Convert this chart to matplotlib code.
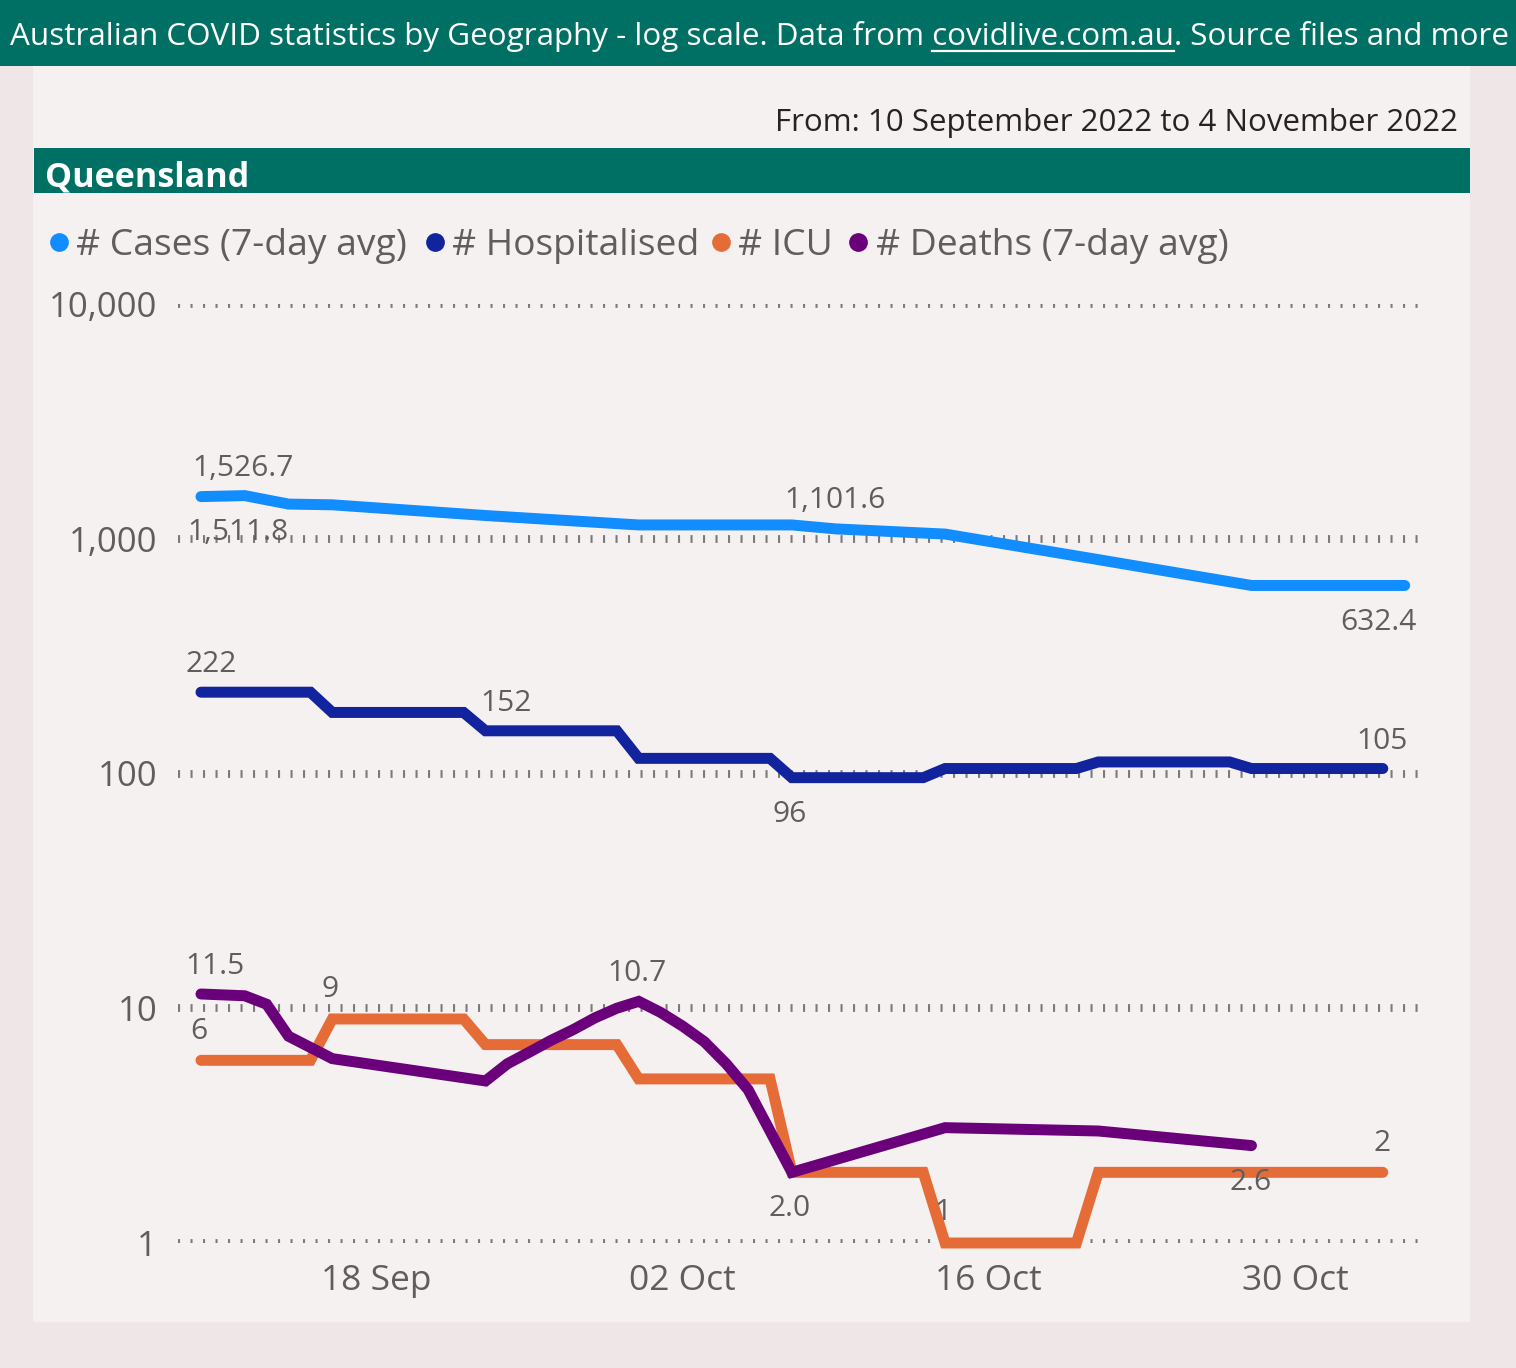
import matplotlib
matplotlib.use('Agg')
import matplotlib.pyplot as plt
import pandas as pd
from matplotlib.patches import Rectangle
from matplotlib.lines import Line2D

plt.rcParams['font.family'] = ['Open Sans', 'DejaVu Sans']
plt.rcParams['lines.scale_dashes'] = False

# ---------------- data ----------------
cases_dates = ['2022-09-10', '2022-09-12', '2022-09-14', '2022-09-16', '2022-09-23', '2022-09-30',
               '2022-10-07', '2022-10-09', '2022-10-14', '2022-10-21', '2022-10-28', '2022-11-04']
cases_vals = [1511.8, 1526.7, 1405, 1395, 1256, 1145, 1145, 1101.6, 1047, 815, 632.4, 632.4]

hosp_dates = ['2022-09-10', '2022-09-15', '2022-09-16', '2022-09-22', '2022-09-23', '2022-09-29',
              '2022-09-30', '2022-10-06', '2022-10-07', '2022-10-13', '2022-10-14', '2022-10-20',
              '2022-10-21', '2022-10-27', '2022-10-28', '2022-11-03']
hosp_vals = [222, 222, 182, 182, 152, 152, 116, 116, 96, 96, 105, 105, 112, 112, 105, 105]

icu_dates = ['2022-09-10', '2022-09-15', '2022-09-16', '2022-09-22', '2022-09-23', '2022-09-29',
             '2022-09-30', '2022-10-06', '2022-10-07', '2022-10-13', '2022-10-14', '2022-10-20',
             '2022-10-21', '2022-11-03']
icu_vals = [6, 6, 9, 9, 7, 7, 5, 5, 2, 2, 1, 1, 2, 2]

deaths_dates = ['2022-09-10', '2022-09-12', '2022-09-13', '2022-09-14', '2022-09-16', '2022-09-23',
                '2022-09-24', '2022-09-25', '2022-09-26', '2022-09-27', '2022-09-28', '2022-09-29',
                '2022-09-30', '2022-10-01', '2022-10-02', '2022-10-03', '2022-10-04', '2022-10-05',
                '2022-10-06', '2022-10-07', '2022-10-14', '2022-10-21', '2022-10-28']
deaths_vals = [11.5, 11.3, 10.4, 7.6, 6.1, 4.9, 5.8, 6.5, 7.3, 8.1, 9.1, 10.0, 10.7, 9.6, 8.4,
               7.2, 5.8, 4.5, 3.0, 2.0, 3.1, 3.0, 2.6]

series_names = ['# Cases (7-day avg)', '# Hospitalised', '# ICU', '# Deaths (7-day avg)']
series_colors = ['#118DFF', '#12239E', '#E66C37', '#6B007B']

y_ticks = [1, 10, 100, 1000, 10000]
y_tick_labels = ['1', '10', '100', '1,000', '10,000']
x_ticks = ['2022-09-18', '2022-10-02', '2022-10-16', '2022-10-30']
x_tick_labels = ['18 Sep', '02 Oct', '16 Oct', '30 Oct']

# (series index, date, value, label, dx px, dy px)
data_labels = [
    (0, '2022-09-12', 1526.7, '1,526.7', -2, 27),
    (0, '2022-09-10', 1511.8, '1,511.8', 37, -36),
    (0, '2022-10-09', 1101.6, '1,101.6', -1, 28),
    (0, '2022-11-04', 632.4, '632.4', -26, -37),
    (1, '2022-09-10', 222, '222', 10, 28),
    (1, '2022-09-23', 152, '152', 21, 27),
    (1, '2022-10-07', 96, '96', -2, -37),
    (1, '2022-11-03', 105, '105', -1, 27),
    (3, '2022-09-10', 11.5, '11.5', 14, 28),
    (2, '2022-09-16', 9, '9', -2, 29),
    (2, '2022-09-10', 6, '6', -2, 29),
    (3, '2022-09-30', 10.7, '10.7', -2, 28),
    (3, '2022-10-07', 2.0, '2.0', -2, -36),
    (2, '2022-10-14', 1, '1', -2, 30),
    (3, '2022-10-28', 2.6, '2.6', -1, -37),
    (2, '2022-11-03', 2, '2', -1, 29),
]

title_prefix = 'Australian COVID statistics by Geography - log scale. Data from '
title_link = 'covidlive.com.au'
title_suffix = '. Source files and more'
date_range_text = 'From: 10 September 2022 to 4 November 2022'
region_text = 'Queensland'

# ---------------- style ----------------
TEAL = '#007064'
OUTER = '#EEE6E7'
PANEL = '#F6F1F1'
GRAY = '#605E5C'

W, H = 1516, 1368
fig = plt.figure(figsize=(W / 100, H / 100), dpi=100)
fig.patch.set_facecolor(OUTER)


def fx(x):
    return x / W


def fy(y):
    return 1 - y / H


fig.add_artist(Rectangle((fx(33), fy(1322)), (1470 - 33) / W, (1322 - 66) / H,
                         transform=fig.transFigure, facecolor=PANEL, edgecolor='none', zorder=0))
fig.add_artist(Rectangle((0, fy(66)), 1, 66 / H, transform=fig.transFigure,
                         facecolor=TEAL, edgecolor='none', zorder=1))
fig.add_artist(Rectangle((fx(34), fy(193)), (1470 - 34) / W, 45 / H, transform=fig.transFigure,
                         facecolor=TEAL, edgecolor='none', zorder=1))

title = fig.text(fx(10), fy(45), title_prefix + title_link + title_suffix, color='white',
                 fontsize=22, ha='left', va='baseline', zorder=3)
from_t = fig.text(fx(1458), fy(131), date_range_text, color='#252423', fontsize=22,
                  ha='right', va='baseline', zorder=3)
region = fig.text(fx(45), fy(186), region_text, color='white', fontsize=24, fontweight='bold',
                  ha='left', va='baseline', zorder=3)

# legend
leg_circle_x = [59, 435, 721, 858]
leg_text_x = [76, 452, 738, 876]
leg_texts = []
for name, col, cx, tx in zip(series_names, series_colors, leg_circle_x, leg_text_x):
    fig.add_artist(Line2D([fx(cx)], [fy(242)], transform=fig.transFigure, marker='o',
                          markersize=13.5, color=col, markeredgewidth=0, zorder=3))
    leg_texts.append(fig.text(fx(tx), fy(255), name, color=GRAY, fontsize=26,
                              ha='left', va='baseline', zorder=3))

# axes
ax = fig.add_axes([fx(178), fy(1243), (1420 - 178) / W, (1243 - 304) / H])
ax.set_facecolor('none')
ax.set_yscale('log')
ax.set_ylim(1, 10000)
start = pd.Timestamp('2022-09-10')
ax.set_xlim(start - pd.Timedelta(hours=25.2), start + pd.Timedelta(hours=55.7 * 24))
for s in ax.spines.values():
    s.set_visible(False)

for v in y_ticks:
    ax.axhline(v, color='#7A7A7A', lw=5.6, linestyle=(0, (1.5, 7.5)),
               dash_capstyle='butt', zorder=0.5)

ax.set_yticks(y_ticks)
ax.set_yticklabels(y_tick_labels)
ax.yaxis.set_minor_locator(matplotlib.ticker.NullLocator())
ax.set_xticks(pd.to_datetime(x_ticks))
ax.set_xticklabels(x_tick_labels)
ax.tick_params(axis='y', length=0, pad=15, labelsize=25, labelcolor=GRAY)
ax.tick_params(axis='x', length=0, pad=15, labelsize=25.5, labelcolor=GRAY)

all_series = [(cases_dates, cases_vals), (hosp_dates, hosp_vals),
              (icu_dates, icu_vals), (deaths_dates, deaths_vals)]
for i, ((d, v), col) in enumerate(zip(all_series, series_colors)):
    ax.plot(pd.to_datetime(d), v, color=col, lw=7.9, solid_capstyle='round',
            solid_joinstyle='miter', clip_on=False, zorder=2 + i)

for si, d, v, lab, dx, dy in data_labels:
    ax.annotate(lab, xy=(pd.Timestamp(d), v), xytext=(dx, dy), textcoords='offset pixels',
                ha='center', va='center', fontsize=21.5, color=GRAY, zorder=10,
                annotation_clip=False)

# fit text widths to the reference layout
renderer = fig.canvas.get_renderer()


def fit(t, width):
    bb = t.get_window_extent(renderer)
    t.set_fontsize(t.get_fontsize() * width / bb.width)


fit(title, 1500)
fit(from_t, 682)
fit(region, 205)
fit(leg_texts[0], 331)
for t in leg_texts[1:]:
    t.set_fontsize(leg_texts[0].get_fontsize())

# underline the link part of the title
fs = title.get_fontsize()


def text_w(s):
    tmp = fig.text(0, 0, s, fontsize=fs)
    w = tmp.get_window_extent(renderer).width
    tmp.remove()
    return w


x0 = 10 + text_w(title_prefix + title_link) - text_w(title_link)
x1 = 10 + text_w(title_prefix + title_link)
fig.add_artist(Line2D([fx(x0), fx(x1)], [fy(51), fy(51)], transform=fig.transFigure,
                      color='white', lw=1.6, zorder=3))

fig.savefig('out.png', dpi=100, facecolor=fig.get_facecolor())
